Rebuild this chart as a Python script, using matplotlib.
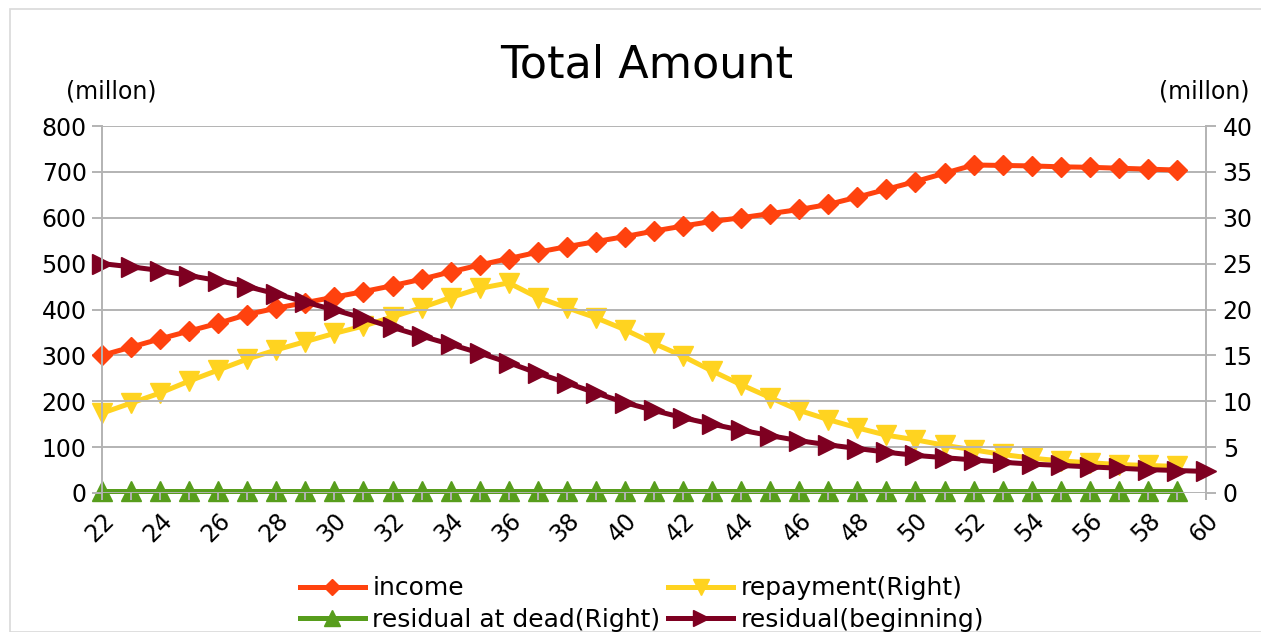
import matplotlib
matplotlib.use("Agg")
import matplotlib.pyplot as plt
from matplotlib.patches import Rectangle

plt.rcParams['font.family'] = ['DejaVu Sans']

ages = list(range(22, 61))

# left axis (millon)
income = [300, 318, 336, 353, 370, 389, 403, 415, 427, 439, 452, 466, 482, 497,
          511, 525, 537, 548, 559, 571, 582, 592, 600, 609, 618, 629, 645, 662,
          679, 697, 715, 714, 713, 711, 710, 708, 706, 704]
residual = [500, 493, 485, 474, 463, 450, 434, 416, 399, 381, 361, 342, 324, 305,
            284, 261, 240, 218, 197, 180, 164, 150, 137, 125, 114, 105, 97, 89,
            82, 77, 72, 67, 63, 60, 57, 54, 51, 49, 47]

# right axis (millon)
repayment = [8.7, 9.8, 10.9, 12.2, 13.4, 14.6, 15.6, 16.5, 17.4, 18.2, 19.2, 20.2,
             21.3, 22.3, 22.9, 21.3, 20.2, 19.1, 17.8, 16.3, 14.9, 13.3, 11.8, 10.4,
             9.0, 8.0, 7.1, 6.3, 5.8, 5.2, 4.7, 4.2, 3.8, 3.5, 3.3, 3.1, 3.0, 2.9]
residual_dead = [0.2, 0.2, 0.2, 0.2, 0.2, 0.2, 0.2, 0.2, 0.2, 0.2, 0.2, 0.2, 0.2,
                 0.2, 0.2, 0.2, 0.2, 0.2, 0.2, 0.2, 0.2, 0.2, 0.2, 0.2, 0.2, 0.2,
                 0.2, 0.2, 0.2, 0.2, 0.2, 0.2, 0.2, 0.2, 0.2, 0.2, 0.2, 0.2]

left_ticks = [0, 100, 200, 300, 400, 500, 600, 700, 800]
right_ticks = [0, 5, 10, 15, 20, 25, 30, 35, 40]

C_INCOME = '#ff420e'
C_REPAY = '#ffd320'
C_DEAD = '#579d1c'
C_RESID = '#7e0021'
GRID = '#b3b3b3'

fig = plt.figure(figsize=(12.61, 6.32), dpi=100)
W, H = 1261, 632
ax = fig.add_axes([102 / W, 1 - 493 / H, (1206 - 102) / W, (493 - 126) / H])
ax2 = ax.twinx()
# left-axis series drawn above the right-axis ones
ax.set_zorder(ax2.get_zorder() + 1)
ax.patch.set_visible(False)

lw = 3.6
h1, = ax.plot(ages[:len(income)], income, color=C_INCOME, lw=lw, marker='D',
              ms=10, mec=C_INCOME, clip_on=False, label='income')
h2, = ax2.plot(ages[:len(repayment)], repayment, color=C_REPAY, lw=lw, marker='v',
               ms=15, mec=C_REPAY, clip_on=False, label='repayment(Right)')
h3, = ax2.plot(ages[:len(residual_dead)], residual_dead, color=C_DEAD, lw=lw,
               marker='^', ms=15, mec=C_DEAD, clip_on=False,
               label='residual at dead(Right)')
h4, = ax.plot(ages[:len(residual)], residual, color=C_RESID, lw=lw, marker='>',
              ms=15, mec=C_RESID, clip_on=False, label='residual(beginning)')

ax.set_xlim(22, 60)
ax.set_ylim(0, 800)
ax2.set_ylim(0, 40)
ax.set_yticks(left_ticks)
ax2.set_yticks(right_ticks)
ax.yaxis.grid(True, color=GRID, lw=1.4)
ax.set_axisbelow(True)

ax.set_xticks(ages)
ax.set_xticklabels([str(a) if a % 2 == 0 else '' for a in ages],
                   rotation=45, ha='right', va='top', rotation_mode='anchor')

for a in (ax, ax2):
    for s in a.spines.values():
        s.set_visible(False)
    a.tick_params(colors=GRID, labelcolor='black', labelsize=17, width=1.4)
ax.spines['left'].set_visible(True)
ax.spines['left'].set_color(GRID)
ax.spines['left'].set_linewidth(1.4)
ax2.spines['right'].set_visible(True)
ax2.spines['right'].set_color(GRID)
ax2.spines['right'].set_linewidth(1.4)
ax.tick_params(axis='y', length=7, pad=4)
ax2.tick_params(axis='y', length=7, pad=5)
ax.tick_params(axis='x', length=5, pad=6)

fig.text(647 / W, 1 - 65 / H, 'Total Amount', fontsize=32, ha='center', va='center')
fig.text(111 / W, 1 - 91 / H, '(millon)', fontsize=17, ha='center', va='center')
fig.text(1204 / W, 1 - 91 / H, '(millon)', fontsize=17, ha='center', va='center')

# legend filled row by row: income / repayment, then the two residuals
fig.legend(handles=[h1, h3, h2, h4], ncol=2, loc='center',
           bbox_to_anchor=(642 / W, 1 - 604 / H), frameon=False, fontsize=18,
           numpoints=1, handlelength=2.6, handletextpad=0.3, columnspacing=0.3,
           labelspacing=0.3, markerscale=0.8)

# light frame round the chart area
fig.patches.append(Rectangle((10 / W, 0), 1.0, 1 - 9 / H, transform=fig.transFigure,
                             fill=False, edgecolor='#d9d9d9', lw=1.2))

fig.savefig('out.png', dpi=100)
